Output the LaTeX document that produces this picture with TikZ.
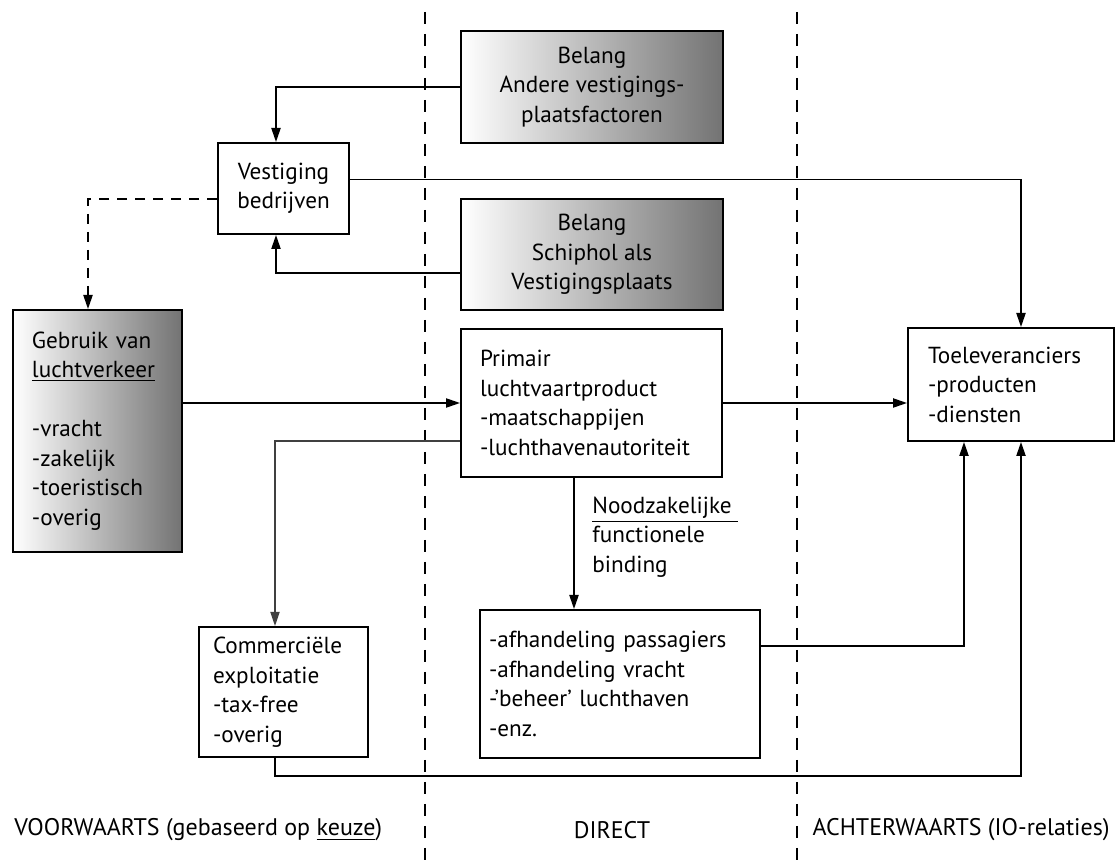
\documentclass[tikz,border=0pt]{standalone}
\usepackage{fontspec}
\setmainfont{PT Sans}
\usetikzlibrary{arrows.meta}
\begin{document}
\begin{tikzpicture}[x=0.5pt,y=-0.5pt,
  font=\fontsize{11.6pt}{14.75pt}\selectfont,
  box/.style={draw, line width=1pt, inner ysep=0pt},
  lbox/.style={box, align=left},
  shade/.style={left color=white, right color=black!55},
  conn/.style={line width=0.8pt, -{Triangle[length=7pt,width=4.6pt]}},
  thinconn/.style={line width=0.55pt, draw=black!75, -{Triangle[length=7pt,width=4.6pt]}},
  dconn/.style={line width=0.8pt, dash pattern=on 5pt off 4pt, -{Triangle[length=7pt,width=4.6pt]}},
  divider/.style={line width=0.7pt, dash pattern=on 6pt off 5pt},
  lbl/.style={inner sep=0pt},
  bottomlbl/.style={inner sep=0pt, font=\fontsize{12pt}{14.75pt}\selectfont}]
\useasboundingbox (0,0) rectangle (1115,865);
\fill[white] (0,0) rectangle (1115,865);

% dividers
\coordinate (d1t) at (425,12);  \coordinate (d1b) at (425,865);
\coordinate (d2t) at (797,12);  \coordinate (d2b) at (797,865);
\draw[divider] (d1t) -- (d1b);
\draw[divider] (d2t) -- (d2b);

% boxes
\node[box, shade, align=center, minimum width=131pt, minimum height=56pt] (andere) at (592,87)
  {Belang\\Andere vestigings-\\plaatsfactoren};
\node[box, shade, align=center, minimum width=131pt, minimum height=55.5pt] (schiphol) at (592,254.5)
  {Belang\\Schiphol als\\Vestigingsplaats};
\node[box, fill=white, align=center, minimum width=65.5pt, minimum height=45.5pt, inner xsep=0pt] (vest) at (283.5,188.5)
  {Vestiging\\bedrijven};
\node[lbox, shade, text width=65.5pt, inner xsep=9.5pt, minimum height=121pt] (gebruik) at (97.5,431)
  {Gebruik van\\\underline{luchtverkeer}\\[14.75pt]-vracht\\-zakelijk\\-toeristisch\\-overig};
\node[lbox, fill=white, text width=111.5pt, inner xsep=9.5pt, minimum height=74pt] (primair) at (591.5,403)
  {Primair\\luchtvaartproduct\\-maatschappijen\\-luchthavenautoriteit};
\node[lbox, fill=white, text width=83pt, inner xsep=10pt, minimum height=56.5pt] (toel) at (1011,384.5)
  {Toeleveranciers\\-producten\\-diensten};
\node[lbox, fill=white, text width=70.5pt, inner xsep=7pt, minimum height=65pt] (comm) at (283.5,692)
  {Commerciële\\exploitatie\\-tax-free\\-overig};
\node[lbox, fill=white, text width=131pt, inner xsep=4.5pt, minimum height=74pt] (afh) at (620,684)
  {-afhandeling passagiers\\-afhandeling vracht\\-’beheer’ luchthaven\\-enz.};

\node[lbl, align=left, anchor=west] (nood) at (592,537)
  {\underline{Noodzakelijke\ }\\functionele\\binding};

% bottom labels
\node[bottomlbl, anchor=west] (voor) at (14,830) {VOORWAARTS (gebaseerd op \underline{keuze})};
\node[bottomlbl] (direct) at (612,830) {DIRECT};
\node[bottomlbl, anchor=east] (achter) at (1110,830) {ACHTERWAARTS (IO-relaties)};

% connectors
\draw[conn] (andere.west) -| ([xshift=-3.75pt]vest.north);
\draw[conn] ([yshift=-9.25pt]schiphol.west) -| ([xshift=-3.75pt]vest.south);
\draw[conn] ([yshift=4.5pt]vest.east) -| ([xshift=5pt]toel.north);
\draw[dconn] ([yshift=-5.25pt]vest.west) -| ([xshift=-4.75pt]gebruik.north);
\draw[conn] (gebruik.east |- primair.west) -- (primair.west);
\draw[conn] (primair.east) -- (primair.east -| toel.west);
\draw[thinconn] ([yshift=-19pt]primair.west) -| ([xshift=-4.25pt]comm.north);
\draw[conn] ([xshift=-8.75pt]primair.south) -- ([xshift=-8.75pt]primair.south |- afh.north);
\draw[conn] ([yshift=19pt]afh.east) -| ([xshift=-23.5pt]toel.south);
\coordinate (bus) at (650,776);
\draw[conn] ([xshift=-4.25pt]comm.south) |- (bus) -| ([xshift=5pt]toel.south);
\end{tikzpicture}
\end{document}
